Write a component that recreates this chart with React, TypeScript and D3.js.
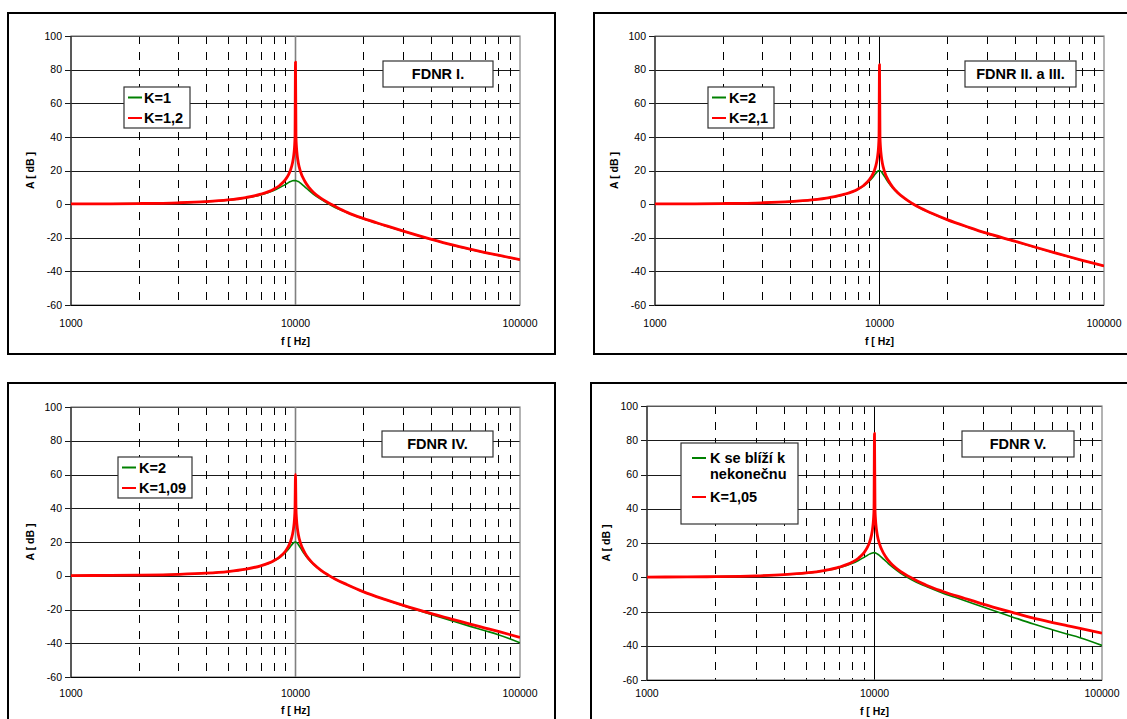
import React from 'react';
import * as d3 from 'd3';

// frequency samples shared by all four curves pairs [Hz]
const FREQ = [
  1000, 1500, 2000, 3000, 4000, 5000, 6000, 7000, 8000, 8500, 9000, 9300, 9500, 9700, 9800, 9900, 9950,
  10000,
  10050, 10100, 10200, 10300, 10500, 11000, 11500, 12000, 13000, 14000, 15000,
  17000, 20000, 25000, 30000, 40000, 50000, 60000, 70000, 80000, 100000,
];

// FDNR I.
const P1_K1 = [
  0.1, 0.2, 0.35, 0.8, 1.5, 2.4, 3.7, 5.5, 8.1, 9.8, 11.6, 12.8, 13.4, 13.9, 14.0, 14.0, 14.0,
  14.0,
  13.9, 13.9, 13.6, 13.4, 12.6, 10.3, 8.0, 6.0, 2.8, 0.2, -2.0,
  -5.1, -8.7, -12.8, -16.0, -20.9, -24.4, -26.9, -28.9, -30.5, -33.1,
];
const P1_K12 = [
  0.1, 0.2, 0.35, 0.8, 1.5, 2.5, 3.9, 5.9, 8.9, 11.1, 14.4, 17.4, 20.2, 24.6, 28.1, 34.0, 40.0,
  84.5,
  40.0, 33.9, 27.9, 24.3, 19.8, 13.6, 9.8, 7.1, 3.4, 0.8, -1.3,
  -4.9, -8.5, -12.6, -15.9, -20.8, -24.3, -26.8, -28.8, -30.4, -33.0,
];

// FDNR II. a III.
const P2_K2 = [
  0.1, 0.2, 0.35, 0.8, 1.5, 2.5, 3.9, 5.8, 8.7, 10.8, 13.6, 15.7, 17.3, 18.9, 19.5, 19.9, 20.0,
  20.0,
  19.9, 19.7, 19.2, 18.4, 16.7, 12.5, 9.3, 6.8, 3.1, 0.3, -2.0,
  -5.4, -9.3, -13.9, -17.4, -22.1, -25.9, -28.9, -31.4, -33.5, -36.8,
];
const P2_K21 = [
  0.1, 0.2, 0.35, 0.8, 1.5, 2.5, 3.9, 5.9, 8.9, 11.1, 14.4, 17.4, 20.2, 24.6, 28.1, 34.0, 40.0,
  83.0,
  40.0, 33.9, 27.9, 24.3, 19.8, 13.6, 9.8, 7.1, 3.2, 0.4, -1.9,
  -5.3, -9.2, -13.8, -17.3, -22.0, -25.8, -28.8, -31.3, -33.4, -36.7,
];

// FDNR IV.
const P3_K2 = [
  0.1, 0.2, 0.35, 0.8, 1.5, 2.5, 3.9, 5.8, 8.7, 10.8, 13.6, 15.7, 17.3, 18.9, 19.5, 19.9, 20.0,
  20.0,
  19.9, 19.7, 19.2, 18.4, 16.7, 12.5, 9.3, 6.8, 3.1, 0.3, -2.0,
  -5.4, -9.5, -14.1, -17.6, -22.8, -26.8, -30.0, -32.6, -34.9, -39.7,
];
const P3_K109 = [
  0.1, 0.2, 0.35, 0.8, 1.5, 2.5, 3.9, 5.9, 8.9, 11.1, 14.4, 17.4, 20.2, 24.6, 28.1, 34.0, 40.0,
  60.0,
  40.0, 33.9, 27.9, 24.3, 19.8, 13.6, 9.8, 7.1, 3.2, 0.4, -1.9,
  -5.3, -9.4, -14.0, -17.4, -22.3, -25.8, -28.7, -31.0, -33.0, -36.5,
];

// FDNR V.
const P4_KINF = [
  0.1, 0.2, 0.35, 0.8, 1.5, 2.4, 3.7, 5.5, 8.1, 9.8, 11.6, 12.8, 13.5, 14.0, 14.2, 14.3, 14.4,
  14.4,
  14.3, 14.2, 13.9, 13.6, 12.8, 10.4, 8.0, 5.9, 2.5, -0.2, -2.4,
  -5.6, -9.3, -13.7, -17.4, -23.0, -27.3, -30.5, -33.1, -35.3, -39.8,
];
const P4_K105 = [
  0.1, 0.2, 0.35, 0.8, 1.5, 2.5, 3.9, 5.9, 8.9, 11.1, 14.4, 17.4, 20.2, 24.6, 28.1, 34.0, 40.0,
  84.0,
  40.0, 33.9, 27.9, 24.3, 19.8, 13.6, 9.8, 7.1, 3.4, 0.8, -1.3,
  -4.8, -8.3, -12.4, -15.7, -20.4, -23.9, -26.3, -28.2, -29.8, -32.6,
];

const DB_TICKS = [-60, -40, -20, 0, 20, 40, 60, 80, 100];
const FREQ_LABELS = [1000, 10000, 100000];
const RESONANCE = 10000;

const GREEN = '#008000';
const RED = '#ff0000';
const FONT = 'Arial, "Liberation Sans", sans-serif';

type Series = { label: string[]; color: string; values: number[] };
type Panel = {
  frame: number[]; // x0, y0, x1, y1
  plot: number[]; // x0, y0, x1, y1
  labelGap: number[]; // baseline of tick labels / axis title below the plot
  title: string;
  titleBox: number[]; // x, y, w, h
  legendBox: number[];
  legendLine: number[]; // line start, line end, text start (offsets from box x)
  legendRows: number[]; // y offset of each entry from box top
  midColor: string;
  series: Series[];
};

const PANELS: Panel[] = [
  {
    frame: [8, 13, 555, 354], plot: [71, 36, 520, 305], labelGap: [22, 40],
    title: 'FDNR I.', titleBox: [383, 61, 110, 26],
    legendBox: [124, 87, 66, 41], legendLine: [4, 18, 20], legendRows: [10.5, 31],
    midColor: '#808080',
    series: [
      { label: ['K=1'], color: GREEN, values: P1_K1 },
      { label: ['K=1,2'], color: RED, values: P1_K12 },
    ],
  },
  {
    frame: [594, 13, 1140, 354], plot: [655, 36, 1104, 305], labelGap: [22, 40],
    title: 'FDNR II. a III.', titleBox: [965, 61, 111, 26],
    legendBox: [708, 87, 66, 41], legendLine: [4, 18, 21], legendRows: [10.5, 31],
    midColor: '#000',
    series: [
      { label: ['K=2'], color: GREEN, values: P2_K2 },
      { label: ['K=2,1'], color: RED, values: P2_K21 },
    ],
  },
  {
    frame: [8, 383, 555, 730], plot: [71, 407, 520, 677], labelGap: [20, 37],
    title: 'FDNR IV.', titleBox: [382, 431, 111, 26],
    legendBox: [118, 457, 74, 41], legendLine: [4, 18, 21], legendRows: [10.5, 31],
    midColor: '#808080',
    series: [
      { label: ['K=2'], color: GREEN, values: P3_K2 },
      { label: ['K=1,09'], color: RED, values: P3_K109 },
    ],
  },
  {
    frame: [591, 383, 1140, 730], plot: [647, 406, 1102, 680], labelGap: [17, 35],
    title: 'FDNR V.', titleBox: [962, 431, 112, 26],
    legendBox: [681, 443, 117, 81], legendLine: [11, 25, 29], legendRows: [15, 54],
    midColor: '#000',
    series: [
      { label: ['K se blíží k', 'nekonečnu'], color: GREEN, values: P4_KINF },
      { label: ['K=1,05'], color: RED, values: P4_K105 },
    ],
  },
];

const crisp = (v: number) => Math.round(v) + 0.5;

function Chart({ p, idx }: { p: Panel; idx: number }) {
  const [px0, py0, px1, py1] = p.plot;
  const x = d3.scaleLog().domain([1000, 100000]).range([px0, px1]);
  const y = d3.scaleLinear().domain([-60, 100]).range([py1, py0]);
  const line = d3
    .line<number>()
    .x((_, i) => x(FREQ[i]))
    .y((d) => y(d))
    .curve(d3.curveMonotoneX);
  const minor = x.ticks().filter((f) => !FREQ_LABELS.includes(f));
  const [fx0, fy0, fx1, fy1] = p.frame;
  const [tx, ty, tw, th] = p.titleBox;
  const [lx, ly, lw, lh] = p.legendBox;
  const clipId = `clip${idx}`;

  return (
    <g>
      <rect x={fx0} y={fy0} width={fx1 - fx0} height={fy1 - fy0} fill="#fff" stroke="#000" strokeWidth={2} />
      <clipPath id={clipId}>
        <rect x={px0} y={py0 - 1} width={px1 - px0} height={py1 - py0 + 2} />
      </clipPath>

      {/* horizontal gridlines + y ticks */}
      {DB_TICKS.map((t) => (
        <g key={t}>
          <line x1={px0 - 6} x2={px1} y1={crisp(y(t))} y2={crisp(y(t))} stroke="#1a1a1a" strokeWidth={1} />
          <text x={px0 - 9} y={y(t)} dy="0.35em" textAnchor="end" fontSize={10.5} fontFamily={FONT}>
            {t}
          </text>
        </g>
      ))}

      {/* dashed minor verticals */}
      {minor.map((f) => (
        <line key={f} x1={crisp(x(f))} x2={crisp(x(f))} y1={py0} y2={py1} stroke="#000" strokeWidth={1} strokeDasharray="8 8" />
      ))}
      <line x1={x(RESONANCE)} x2={x(RESONANCE)} y1={py0} y2={py1} stroke={p.midColor} strokeWidth={p.midColor === '#000' ? 1 : 1.6} />

      {/* plot frame */}
      <rect x={px0} y={py0} width={px1 - px0} height={py1 - py0} fill="none" stroke="#808080" strokeWidth={1.2} />
      <line x1={px0} x2={px0} y1={py0} y2={py1} stroke="#000" strokeWidth={1} />
      <line x1={px0} x2={px1} y1={crisp(py1)} y2={crisp(py1)} stroke="#000" strokeWidth={1} />

      {/* curves */}
      <g clipPath={`url(#${clipId})`}>
        {p.series.map((s) => (
          <path key={s.color} d={line(s.values) || ''} fill="none" stroke={s.color} strokeWidth={s.color === RED ? 2.8 : 1.6} strokeLinejoin="round" />
        ))}
      </g>

      {/* x labels */}
      {FREQ_LABELS.map((f) => (
        <text key={f} x={x(f)} y={py1 + p.labelGap[0]} textAnchor="middle" fontSize={10.5} fontFamily={FONT}>
          {f}
        </text>
      ))}
      <text x={(px0 + px1) / 2} y={py1 + p.labelGap[1]} textAnchor="middle" fontSize={10.5} fontWeight="bold" fontFamily={FONT}>
        f [ Hz]
      </text>
      <text
        transform={`translate(${px0 - 37},${(py0 + py1) / 2}) rotate(-90)`}
        textAnchor="middle"
        fontSize={10.5}
        fontWeight="bold"
        fontFamily={FONT}
      >
        A [ dB ]
      </text>

      {/* title box */}
      <rect x={tx} y={ty} width={tw} height={th} fill="#fff" stroke="#333" strokeWidth={1.2} />
      <text x={tx + tw / 2} y={ty + th / 2} dy="0.36em" textAnchor="middle" fontSize={14.5} fontWeight="bold" fontFamily={FONT}>
        {p.title}
      </text>

      {/* legend */}
      <rect x={lx} y={ly} width={lw} height={lh} fill="#fff" stroke="#333" strokeWidth={1.2} />
      {p.series.map((s, i) => {
        const ry = ly + p.legendRows[i];
        return (
          <g key={i}>
            <line x1={lx + p.legendLine[0]} x2={lx + p.legendLine[1]} y1={ry} y2={ry} stroke={s.color} strokeWidth={2} />
            {s.label.map((t, j) => (
              <text key={j} x={lx + p.legendLine[2]} y={ry + j * 16} dy="0.36em" fontSize={14.5} fontWeight="bold" fontFamily={FONT}>
                {t}
              </text>
            ))}
          </g>
        );
      })}
    </g>
  );
}

export default function App() {
  return (
    <div style={{ position: 'fixed', left: 0, top: 0 }}>
      <svg width={1127} height={719} style={{ display: 'block', background: '#fff' }}>
        {PANELS.map((p, i) => (
          <Chart key={i} p={p} idx={i} />
        ))}
      </svg>
    </div>
  );
}
